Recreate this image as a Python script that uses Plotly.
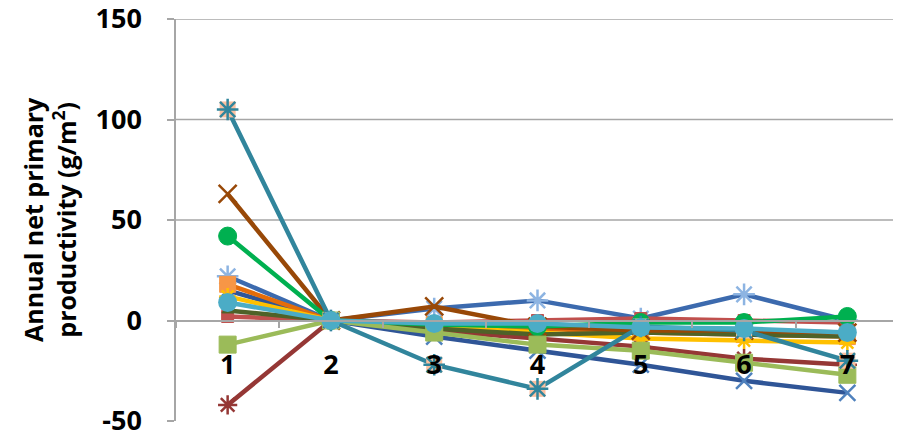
import plotly.graph_objects as go

categories = ["1", "2", "3", "4", "5", "6", "7"]

dark_blue = [15, 0, -8, -15, -22, -30, -36]
blue_star = [22, 0, 6, 10, 1, 13, 0]
red = [2, 0, -1, 0, 1, 0, -1]
dark_red = [-42, 0, -5, -9, -13, -19, -22]
orange = [18, 0, -2, -4, -6, -7, -8]
yellow = [12, 0, -3, -6, -9, -10, -11]
dark_green = [5, 0, -4, -7, -6, -7, -8]
brown = [63, 0, 7, -3, -5, -5, -6]
green = [42, 0, -2, -3, -1, -1, 2]
light_green = [-12, 0, -6, -12, -15, -21, -27]
teal = [105, 0, -22, -34, -3, -5, -20]
aqua = [9, 0, -1.5, -1.5, -3.5, -4, -6]

y_ticks = [-50, 0, 50, 100, 150]
y_tick_labels = ["-50", "0", "50", "100", "150"]
grid_values = [50, 100, 150]

FONT = "Open Sans"

series = [
    # (values, line colour, marker symbol, marker fill, marker outline, size)
    (dark_blue, "#2F5597", "x-thin-open", None, "#4F81BD", 16),
    (blue_star, "#3C6AAE", "asterisk-open", None, "#8DB4E2", 18),
    (red, "#C0504D", "square", "#C0504D", "#C0504D", 12),
    (dark_red, "#953735", "asterisk-open", None, "#953735", 16),
    (orange, "#E46C0A", "square", "#F79646", "#F79646", 16),
    (yellow, "#FFC000", "asterisk-open", None, "#FFC000", 14),
    (dark_green, "#4F6228", "triangle-up", "#4F6228", "#4F6228", 10),
    (brown, "#984807", "x-thin-open", None, "#984807", 18),
    (green, "#00B050", "circle", "#00B050", "#00B050", 18),
    (light_green, "#9BBB59", "square", "#9BBB59", "#9BBB59", 17),
]

fig = go.Figure()

for vals, lc, sym, fill, outline, size in series:
    if fill is None:
        marker = dict(symbol=sym, size=size, color=outline, line=dict(color=outline, width=2.5))
    else:
        marker = dict(symbol=sym, size=size, color=fill, line=dict(color=outline, width=1))
    fig.add_trace(go.Scatter(
        x=categories, y=vals, mode="lines+markers",
        line=dict(color=lc, width=4.5), marker=marker, showlegend=False,
    ))

# teal series: peach square behind an asterisk
fig.add_trace(go.Scatter(
    x=categories, y=teal, mode="lines+markers",
    line=dict(color="#31859C", width=4.5),
    marker=dict(symbol="square", size=16, color="#FBC0A0", line=dict(width=0)),
    showlegend=False,
))
fig.add_trace(go.Scatter(
    x=categories, y=teal, mode="markers",
    marker=dict(symbol="asterisk-open", size=18, color="#31859C",
                line=dict(color="#31859C", width=2.5)),
    showlegend=False,
))
fig.add_trace(go.Scatter(
    x=categories, y=aqua, mode="lines+markers",
    line=dict(color="#4BACC6", width=4.5),
    marker=dict(symbol="circle", size=19, color="#4BACC6", line=dict(width=0)),
    showlegend=False,
))

for g in grid_values:
    fig.add_shape(type="line", xref="paper", x0=0, x1=1, yref="y", y0=g, y1=g,
                  line=dict(color="#A6A6A6", width=1.5), layer="below")

fig.add_annotation(
    text="<b>Annual net primary<br>productivity (g/m<sup>2</sup>)</b>",
    xref="paper", yref="paper", x=0, y=0.5, xshift=-127,
    xanchor="center", yanchor="middle", textangle=-90, showarrow=False,
    font=dict(family=FONT, size=25, color="black"),
)

# the page body adds an 8px margin, so the figure is made 8px smaller
fig.update_layout(
    width=893, height=427,
    margin=dict(l=168, r=2, t=11, b=14, autoexpand=False),
    paper_bgcolor="white", plot_bgcolor="white",
    font=dict(family=FONT, color="black"),
    xaxis=dict(
        type="category", range=[-0.5, 6.5], anchor="free", position=0.25,
        showline=True, linecolor="#A6A6A6", linewidth=1.5,
        ticks="outside", tickson="boundaries", ticklen=7, tickcolor="#A6A6A6", tickwidth=1.5,
        tickfont=dict(family=FONT, size=27, color="black", weight="bold"),
        ticklabelstandoff=20, showgrid=False, zeroline=False, layer="above traces",
        automargin=False, ticklabeloverflow="allow",
    ),
    yaxis=dict(
        range=[-50, 150], tickmode="array", tickvals=y_ticks, ticktext=y_tick_labels,
        showline=True, linecolor="#A6A6A6", linewidth=1.5,
        ticks="outside", ticklen=7, tickcolor="#A6A6A6", tickwidth=1.5,
        tickfont=dict(family=FONT, size=27, color="black", weight="bold"),
        ticklabelstandoff=20, showgrid=False, zeroline=False, automargin=False,
        ticklabeloverflow="allow",
    ),
)

fig.write_html("out.html")
